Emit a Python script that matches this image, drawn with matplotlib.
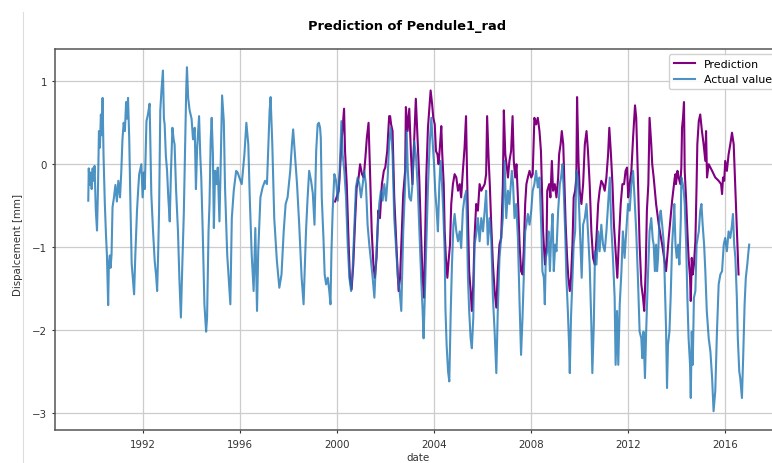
import numpy as np
import pandas as pd
import matplotlib
matplotlib.use('Agg')
import matplotlib.pyplot as plt
import matplotlib.dates as mdates
from matplotlib.lines import Line2D

# values (decimal year, displacement in mm)
actual_year = [
    1989.74, 1989.76, 1989.80, 1989.84, 1989.88, 1989.92, 1989.96, 1990.00, 1990.05, 1990.10,
    1990.14, 1990.18, 1990.22, 1990.26, 1990.30, 1990.33, 1990.37, 1990.42, 1990.47, 1990.51,
    1990.56, 1990.59, 1990.63, 1990.66, 1990.70, 1990.74, 1990.80, 1990.86, 1990.92, 1990.98,
    1991.05, 1991.10, 1991.15, 1991.20, 1991.25, 1991.30, 1991.34, 1991.38, 1991.43, 1991.48,
    1991.53, 1991.57, 1991.63, 1991.68, 1991.75, 1991.80, 1991.84, 1991.93, 1991.98, 1992.03,
    1992.07, 1992.14, 1992.20, 1992.27, 1992.34, 1992.41, 1992.48, 1992.54, 1992.58, 1992.62,
    1992.66, 1992.71, 1992.76, 1992.82, 1992.86, 1992.89, 1992.94, 1992.99, 1993.04, 1993.10,
    1993.15, 1993.21, 1993.26, 1993.30, 1993.36, 1993.44, 1993.50, 1993.56, 1993.62, 1993.68,
    1993.74, 1993.78, 1993.81, 1993.86, 1993.92, 1994.00, 1994.06, 1994.13, 1994.18, 1994.23,
    1994.31, 1994.36, 1994.40, 1994.46, 1994.53, 1994.60, 1994.64, 1994.70, 1994.74, 1994.79,
    1994.83, 1994.88, 1994.92, 1994.97, 1995.03, 1995.08, 1995.15, 1995.19, 1995.26, 1995.33,
    1995.38, 1995.47, 1995.53, 1995.60, 1995.66, 1995.74, 1995.84, 1995.90, 1995.97, 1996.07,
    1996.18, 1996.26, 1996.34, 1996.40, 1996.48, 1996.56, 1996.63, 1996.70, 1996.75, 1996.84,
    1996.93, 1997.03, 1997.11, 1997.17, 1997.22, 1997.26, 1997.33, 1997.41, 1997.52, 1997.62,
    1997.71, 1997.80, 1997.88, 1997.96, 1998.07, 1998.14, 1998.19, 1998.28, 1998.35, 1998.44,
    1998.54, 1998.62, 1998.72, 1998.78, 1998.85, 1998.93, 1999.00, 1999.07, 1999.14, 1999.20,
    1999.25, 1999.30, 1999.33, 1999.37, 1999.44, 1999.49, 1999.55, 1999.62, 1999.68, 1999.73,
    1999.77, 1999.82, 1999.89, 1999.96, 2000.03, 2000.10, 2000.18, 2000.23, 2000.30, 2000.37,
    2000.44, 2000.51, 2000.58, 2000.64, 2000.73, 2000.78, 2000.85, 2000.92, 2000.99, 2001.06,
    2001.12, 2001.19, 2001.26, 2001.33, 2001.40, 2001.47, 2001.54, 2001.60, 2001.67, 2001.74,
    2001.81, 2001.88, 2001.95, 2002.02, 2002.09, 2002.15, 2002.22, 2002.29, 2002.36, 2002.46,
    2002.51, 2002.57, 2002.65, 2002.73, 2002.81, 2002.87, 2002.92, 2002.98, 2003.05, 2003.11,
    2003.18, 2003.25, 2003.33, 2003.42, 2003.47, 2003.53, 2003.57, 2003.62, 2003.68, 2003.75,
    2003.82, 2003.89, 2003.95, 2004.00, 2004.05, 2004.11, 2004.16, 2004.22, 2004.27, 2004.33,
    2004.38, 2004.44, 2004.47, 2004.52, 2004.58, 2004.63, 2004.69, 2004.74, 2004.80, 2004.85,
    2004.92, 2004.99, 2005.06, 2005.12, 2005.19, 2005.26, 2005.33, 2005.40, 2005.45, 2005.51,
    2005.56, 2005.62, 2005.67, 2005.74, 2005.81, 2005.88, 2005.95, 2006.02, 2006.09, 2006.15,
    2006.22, 2006.29, 2006.36, 2006.43, 2006.50, 2006.57, 2006.63, 2006.70, 2006.77, 2006.84,
    2006.91, 2006.98, 2007.05, 2007.11, 2007.21, 2007.26, 2007.32, 2007.39, 2007.46, 2007.53,
    2007.59, 2007.65, 2007.70, 2007.76, 2007.81, 2007.87, 2007.94, 2008.01, 2008.07, 2008.14,
    2008.21, 2008.28, 2008.35, 2008.43, 2008.47, 2008.53, 2008.57, 2008.61, 2008.67, 2008.72,
    2008.78, 2008.83, 2008.89, 2008.94, 2009.00, 2009.05, 2009.12, 2009.19, 2009.24, 2009.30,
    2009.35, 2009.41, 2009.46, 2009.52, 2009.57, 2009.60, 2009.65, 2009.71, 2009.76, 2009.82,
    2009.87, 2009.93, 2009.98, 2010.04, 2010.09, 2010.15, 2010.22, 2010.29, 2010.35, 2010.42,
    2010.49, 2010.53, 2010.59, 2010.64, 2010.70, 2010.77, 2010.83, 2010.90, 2010.97, 2011.04,
    2011.11, 2011.18, 2011.25, 2011.31, 2011.38, 2011.45, 2011.49, 2011.55, 2011.60, 2011.66,
    2011.73, 2011.79, 2011.86, 2011.93, 2012.00, 2012.07, 2012.14, 2012.21, 2012.27, 2012.34,
    2012.41, 2012.48, 2012.55, 2012.59, 2012.64, 2012.70, 2012.75, 2012.82, 2012.89, 2012.96,
    2013.02, 2013.06, 2013.11, 2013.16, 2013.20, 2013.24, 2013.30, 2013.35, 2013.41, 2013.48,
    2013.52, 2013.57, 2013.61, 2013.65, 2013.71, 2013.76, 2013.82, 2013.87, 2013.91, 2013.96,
    2014.01, 2014.07, 2014.12, 2014.18, 2014.20, 2014.26, 2014.30, 2014.34, 2014.40, 2014.45,
    2014.50, 2014.56, 2014.59, 2014.63, 2014.67, 2014.72, 2014.78, 2014.83, 2014.92, 2014.98,
    2015.03, 2015.08, 2015.14, 2015.19, 2015.25, 2015.33, 2015.40, 2015.47, 2015.53, 2015.60,
    2015.67, 2015.74, 2015.81, 2015.88, 2015.95, 2016.01, 2016.08, 2016.15, 2016.22, 2016.29,
    2016.33, 2016.38, 2016.43, 2016.49, 2016.53, 2016.59, 2016.63, 2016.70, 2016.75, 2016.81,
    2016.86, 2016.92, 2016.97, 2017.00,
]
actual_mm = [
    -0.44, -0.05, -0.25, -0.10, -0.30, -0.05, -0.20, -0.02, -0.55, -0.80,
    -0.30, 0.40, 0.20, 0.60, 0.35, 0.80, 0.10, -0.45, -0.85, -1.10,
    -1.70, -1.20, -1.10, -1.25, -1.09, -0.52, -0.40, -0.25, -0.45, -0.20,
    -0.40, -0.10, 0.30, 0.50, 0.40, 0.75, 0.55, 0.80, 0.30, -0.50,
    -1.20, -1.35, -1.57, -1.10, -0.56, -0.30, -0.12, 0.00, -0.40, -0.10,
    -0.30, 0.52, 0.60, 0.73, -0.36, -0.80, -1.17, -1.35, -1.53, -1.10,
    -0.56, 0.65, 0.90, 1.13, 0.55, 0.48, 0.10, -0.08, -0.40, -0.69,
    -0.10, 0.44, 0.30, 0.24, -0.30, -0.81, -1.40, -1.85, -1.20, -0.60,
    0.30, 0.90, 1.17, 0.80, 0.65, 0.55, 0.30, 0.44, -0.30, 0.20,
    0.58, 0.10, -0.16, -0.81, -1.69, -2.02, -1.85, -0.81, -0.48, 0.30,
    0.56, 0.12, -0.77, -0.08, -0.24, -0.04, -0.69, -0.16, 0.83, 0.52,
    -0.28, -1.09, -1.37, -1.69, -0.65, -0.32, -0.08, -0.10, -0.16, -0.24,
    0.12, 0.50, 0.24, -0.40, -1.09, -1.53, -0.77, -1.77, -1.05, -0.40,
    -0.28, -0.20, -0.24, 0.24, 0.65, 0.81, 0.24, -0.65, -1.17, -1.49,
    -1.33, -0.81, -0.48, -0.40, -0.08, 0.24, 0.42, 0.04, -0.24, -0.73,
    -1.37, -1.69, -0.81, -0.44, -0.08, -0.20, -0.35, -0.73, 0.16, 0.48,
    0.50, 0.44, 0.32, -0.40, -0.89, -1.33, -1.45, -1.37, -1.53, -1.69,
    -1.05, -0.56, -0.12, -0.20, -0.44, -0.16, 0.52, 0.12, -0.08, -0.40,
    -0.97, -1.37, -1.53, -1.29, -0.65, -0.28, -0.16, -0.24, -0.40, -0.24,
    -0.08, -0.24, -0.73, -0.97, -1.17, -1.37, -1.61, -1.21, -0.81, -0.48,
    -0.32, -0.44, -0.24, -0.44, -0.16, 0.28, 0.44, 0.12, -0.65, -1.13,
    -1.37, -1.49, -1.77, -0.81, -0.24, 0.40, -0.08, -0.40, -0.44, -0.24,
    0.28, 0.12, -0.28, -0.97, -1.37, -1.77, -2.10, -1.60, -0.97, -0.28,
    0.24, 0.56, 0.24, 0.00, -0.32, -0.56, -0.81, -0.24, 0.04, -0.24,
    -0.56, -1.05, -1.73, -2.18, -2.50, -2.62, -1.77, -1.21, -0.73, -0.60,
    -0.81, -0.93, -0.81, -1.01, -0.56, -0.40, -0.32, -1.37, -1.77, -2.10,
    -2.22, -1.85, -0.97, -0.85, -0.65, -0.93, -0.65, -0.81, -0.56, -0.32,
    -0.97, -0.65, -0.89, -1.61, -2.02, -2.52, -1.77, -1.13, -0.89, -0.65,
    0.04, -0.65, -0.32, -0.48, -0.08, -0.24, -0.65, -0.48, -0.89, -1.69,
    -2.30, -1.85, -1.37, -0.81, -0.73, -0.60, -0.73, -0.56, -0.32, -0.24,
    -0.08, -0.28, -0.16, -0.81, -1.29, -1.37, -1.69, -1.13, -1.05, -0.81,
    -1.29, -0.89, -0.60, -1.29, -0.97, -1.05, -0.56, -0.24, -0.16, 0.00,
    -0.32, -0.81, -1.37, -1.77, -2.18, -2.52, -1.85, -1.37, -0.97, -0.81,
    -0.08, -0.16, -0.48, -0.97, -1.37, -0.73, -0.65, -0.48, -0.81, -1.21,
    -1.94, -2.52, -1.94, -1.05, -1.21, -0.81, -1.05, -0.73, -0.97, -1.05,
    -0.81, -0.48, -0.16, -0.73, -1.13, -1.61, -2.42, -1.77, -2.42, -1.69,
    -1.29, -0.81, -1.13, -0.81, -0.48, -0.56, -0.24, -0.08, -0.40, -0.81,
    -1.37, -2.02, -2.10, -2.34, -2.02, -2.58, -2.02, -1.37, -0.81, -0.65,
    -0.90, -0.97, -1.29, -0.97, -1.29, -1.13, -0.65, -0.56, -0.73, -0.97,
    -1.45, -1.98, -2.70, -2.18, -2.02, -1.61, -0.97, -0.73, -0.48, -0.97,
    -1.13, -0.97, -1.21, -0.65, -0.16, -0.24, -0.32, -0.48, -0.97, -1.61,
    -2.10, -2.42, -2.82, -2.02, -2.42, -1.61, -1.53, -0.97, -0.81, -0.56,
    -0.48, -0.73, -0.97, -1.29, -1.77, -2.10, -2.26, -2.58, -2.98, -2.74,
    -2.02, -1.45, -1.33, -1.29, -0.97, -0.89, -1.05, -0.81, -0.89, -0.73,
    -0.60, -0.97, -1.13, -1.61, -2.10, -2.50, -2.58, -2.82, -2.34, -1.69,
    -1.37, -1.21, -1.05, -0.97,
]

pred_year = [
    1999.92, 1999.98, 2000.07, 2000.12, 2000.18, 2000.23, 2000.29, 2000.33, 2000.40, 2000.48,
    2000.53, 2000.60, 2000.67, 2000.75, 2000.81, 2000.89, 2000.95, 2001.03, 2001.10, 2001.17,
    2001.23, 2001.30, 2001.36, 2001.43, 2001.50, 2001.56, 2001.63, 2001.70, 2001.77, 2001.85,
    2001.93, 2001.99, 2002.07, 2002.15, 2002.19, 2002.23, 2002.29, 2002.36, 2002.46, 2002.54,
    2002.60, 2002.67, 2002.73, 2002.81, 2002.84, 2002.91, 2002.98, 2003.05, 2003.11, 2003.18,
    2003.25, 2003.32, 2003.39, 2003.46, 2003.53, 2003.59, 2003.68, 2003.75, 2003.86, 2003.92,
    2003.97, 2004.03, 2004.08, 2004.14, 2004.19, 2004.25, 2004.30, 2004.34, 2004.40, 2004.44,
    2004.49, 2004.55, 2004.60, 2004.66, 2004.71, 2004.78, 2004.85, 2004.92, 2004.99, 2005.06,
    2005.12, 2005.19, 2005.26, 2005.32, 2005.36, 2005.40, 2005.45, 2005.51, 2005.56, 2005.62,
    2005.67, 2005.74, 2005.81, 2005.88, 2005.95, 2006.02, 2006.09, 2006.15, 2006.19, 2006.25,
    2006.30, 2006.36, 2006.43, 2006.50, 2006.57, 2006.63, 2006.70, 2006.77, 2006.84, 2006.88,
    2006.94, 2006.99, 2007.05, 2007.11, 2007.18, 2007.24, 2007.29, 2007.35, 2007.40, 2007.46,
    2007.53, 2007.59, 2007.65, 2007.70, 2007.76, 2007.81, 2007.87, 2007.94, 2008.01, 2008.07,
    2008.14, 2008.21, 2008.28, 2008.35, 2008.41, 2008.45, 2008.50, 2008.56, 2008.58, 2008.64,
    2008.67, 2008.75, 2008.80, 2008.86, 2008.91, 2008.98, 2009.05, 2009.12, 2009.16, 2009.22,
    2009.27, 2009.33, 2009.38, 2009.43, 2009.49, 2009.54, 2009.60, 2009.65, 2009.71, 2009.76,
    2009.82, 2009.87, 2009.90, 2009.96, 2010.01, 2010.08, 2010.15, 2010.22, 2010.29, 2010.35,
    2010.42, 2010.49, 2010.56, 2010.63, 2010.70, 2010.77, 2010.83, 2010.90, 2010.97, 2011.04,
    2011.11, 2011.18, 2011.23, 2011.29, 2011.36, 2011.42, 2011.49, 2011.56, 2011.63, 2011.70,
    2011.77, 2011.84, 2011.90, 2011.96, 2012.01, 2012.07, 2012.14, 2012.21, 2012.29, 2012.34,
    2012.41, 2012.48, 2012.55, 2012.62, 2012.67, 2012.73, 2012.78, 2012.84, 2012.89, 2012.96,
    2013.00, 2013.06, 2013.16, 2013.27, 2013.41, 2013.57, 2013.68, 2013.82, 2013.93, 2013.96,
    2013.98, 2014.04, 2014.09, 2014.16, 2014.20, 2014.23, 2014.27, 2014.31, 2014.34, 2014.40,
    2014.45, 2014.50, 2014.56, 2014.59, 2014.63, 2014.67, 2014.72, 2014.78, 2014.83, 2014.86,
    2014.92, 2014.98, 2015.05, 2015.12, 2015.19, 2015.22, 2015.26, 2015.33, 2015.47, 2015.60,
    2015.74, 2015.84, 2015.88, 2015.92, 2015.97, 2016.01, 2016.08, 2016.15, 2016.22, 2016.29,
    2016.36, 2016.43, 2016.49, 2016.56,
]
pred_mm = [
    -0.45, -0.40, -0.32, -0.08, 0.24, 0.44, 0.67, 0.16, -0.24, -0.97,
    -1.37, -1.51, -1.21, -0.65, -0.28, -0.16, 0.00, -0.12, -0.16, 0.08,
    0.32, 0.50, -0.08, -0.81, -1.21, -1.37, -1.13, -0.56, -0.65, -0.24,
    -0.08, -0.04, 0.16, 0.58, 0.58, 0.48, 0.40, -0.40, -1.05, -1.53,
    -1.37, -0.81, -0.36, -0.08, 0.69, 0.40, 0.67, 0.12, -0.24, 0.28,
    0.79, 0.32, -0.16, -0.81, -1.37, -1.61, -0.16, 0.44, 0.89, 0.73,
    0.56, 0.48, 0.16, 0.12, 0.00, 0.24, 0.46, 0.12, -0.24, -0.81,
    -1.13, -1.37, -1.17, -0.97, -0.48, -0.24, -0.12, -0.16, -0.32, -0.24,
    -0.40, -0.08, 0.20, 0.58, -0.08, -0.65, -1.29, -1.53, -1.77, -1.45,
    -0.89, -0.48, -0.56, -0.24, -0.32, -0.28, -0.24, -0.12, 0.58, 0.08,
    -0.24, -0.73, -1.21, -1.53, -1.73, -1.29, -0.97, -0.89, -0.24, 0.65,
    0.12, 0.00, -0.16, 0.04, 0.16, 0.58, 0.04, -0.16, 0.00, -0.40,
    -0.97, -1.29, -1.33, -1.05, -0.48, -0.24, -0.16, -0.08, -0.16, -0.12,
    0.56, 0.48, 0.56, 0.40, 0.16, -0.28, -0.81, -1.13, -1.21, -0.97,
    -0.32, -0.24, -0.40, 0.04, -0.32, -0.24, -0.40, -0.16, 0.12, 0.24,
    0.40, 0.24, -0.24, -0.73, -1.13, -1.37, -1.53, -1.37, -0.97, -0.40,
    -0.32, -0.16, 0.81, 0.04, -0.32, -0.48, -0.24, 0.24, 0.40, 0.16,
    -0.24, -0.81, -1.13, -1.21, -0.89, -0.48, -0.32, -0.20, -0.24, -0.32,
    -0.16, 0.12, 0.44, 0.16, -0.24, -0.73, -1.05, -1.37, -0.89, -0.48,
    -0.24, -0.24, -0.08, -0.04, -0.40, -0.24, -0.08, 0.32, 0.71, 0.56,
    -0.16, -0.97, -1.45, -1.61, -1.77, -1.29, -0.56, -0.24, 0.56, 0.24,
    0.00, -0.16, -0.48, -0.73, -0.97, -1.29, -0.89, -0.44, -0.16, -0.12,
    -0.24, -0.08, -0.16, -0.24, -0.04, 0.44, 0.56, 0.75, -0.08, -0.44,
    -0.81, -1.13, -1.37, -1.65, -1.13, -1.33, -1.21, -0.93, -0.24, 0.24,
    0.52, 0.60, 0.40, 0.24, 0.04, 0.40, -0.16, 0.00, -0.08, -0.16,
    -0.20, -0.24, -0.36, -0.16, -0.20, 0.04, -0.08, 0.12, 0.24, 0.38,
    0.24, -0.32, -0.77, -1.33,
]


def to_dates(years):
    years = np.asarray(years)
    return pd.Timestamp('1970-01-01') + pd.to_timedelta((years - 1970) * 365.2425, unit='D')


actual_dates = to_dates(actual_year)
pred_dates = to_dates(pred_year)

W, H = 772, 464
fig = plt.figure(figsize=(W / 100, H / 100), dpi=100)
# axes run past the right edge, as in the cropped screenshot
ax = fig.add_axes([55.3 / W, 1 - 431.3 / H, (788 - 55.3) / W, (431.3 - 50) / H])

ax.plot(pred_dates, pred_mm, color='purple', lw=1.5, label='Prediction')
ax.plot(actual_dates, actual_mm, color='tab:blue', alpha=0.8, lw=1.5, label='Actual values')

ax.set_xlim(to_dates([1988.38])[0], to_dates([2018.60])[0])
ax.set_ylim(-3.21, 1.39)
ax.set_yticks([-3, -2, -1, 0, 1])
ax.xaxis.set_major_locator(mdates.YearLocator(4))
ax.xaxis.set_major_formatter(mdates.DateFormatter('%Y'))

ax.grid(True, color='#cccccc', lw=0.9)
ax.set_axisbelow(True)
for s in ax.spines.values():
    s.set_color('#555555')
    s.set_linewidth(1.1)
ax.tick_params(labelsize=7.4, length=2.2, width=0.8, pad=3.8, colors='#333333')

ax.set_xlabel('date', fontsize=7.4, color='#333333', labelpad=3)
ax.xaxis.set_label_coords((418 - 55.3) / (788 - 55.3), -0.058)
ax.set_ylabel('Dispalcement [mm]', fontsize=7.4, color='#333333')
ax.yaxis.set_label_coords(-0.044, 0.49)

ax.legend(loc='upper right', fontsize=7.9, framealpha=0.9)

fig.text(407 / W, 1 - 26.7 / H, 'Prediction of Pendule1_rad', ha='center', va='center',
         fontsize=9.4, fontweight='bold')

fig.add_artist(Line2D([23 / W, 23 / W], [0, 1 - 13 / H], transform=fig.transFigure,
                      color='#dddddd', lw=0.8))

fig.savefig('out.png', dpi=100)
